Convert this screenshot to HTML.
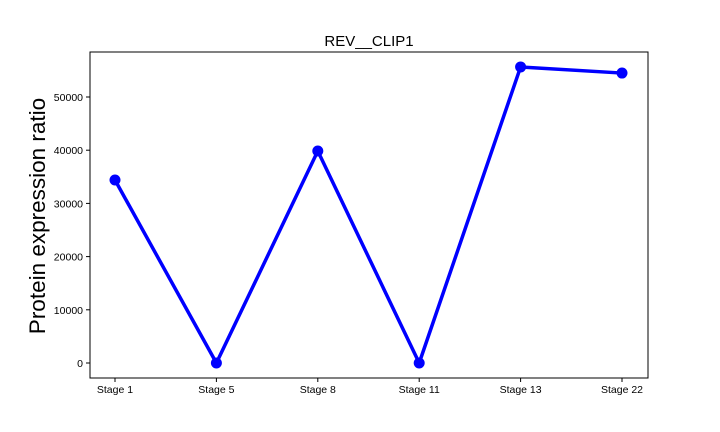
<!DOCTYPE html>
<html><head><meta charset="utf-8"><style>
body{margin:0;background:#fff;}
svg{display:block;font-family:"Liberation Sans","DejaVu Sans",sans-serif;}
</style></head><body>
<svg id="chart" width="720" height="432"></svg>
<script>
const categories=["Stage 1","Stage 5","Stage 8","Stage 11","Stage 13","Stage 22"];
const values=[34400,0,39850,0,55650,54500];
const yTicks=[0,10000,20000,30000,40000,50000];
const NS="http://www.w3.org/2000/svg";
const svg=document.getElementById('chart');
const L=90,R=648,T=52,B=378;
const x0=115,xStep=101.4;
function xs(i){return x0+i*xStep;}
function ys(v){return 363-v*53.2/10000;}
function mk(tag,attrs,parent){const e=document.createElementNS(NS,tag);for(const k in attrs)e.setAttribute(k,attrs[k]);(parent||svg).appendChild(e);return e;}
const frame=mk('rect',{x:L,y:T,width:R-L,height:B-T,fill:'none',stroke:'#000','stroke-width':1});


yTicks.forEach(v=>{
  const y=ys(v);
  const t=mk('line',{x1:L-4,x2:L,y1:y,y2:y,stroke:'#000'});
  
  
  const lb=mk('text',{x:L-7,y:y+4,'text-anchor':'end','font-size':10.5});
  lb.textContent=v;
  
  
});
categories.forEach((c,i)=>{
  const x=xs(i);
  const t=mk('line',{x1:x,x2:x,y1:B,y2:B+4,stroke:'#000'});
  
  
  const lb=mk('text',{x:x,y:B+15,'text-anchor':'middle','font-size':10.5});
  lb.textContent=c;
  
  
});
const line=mk('polyline',{points:values.map((v,i)=>xs(i)+','+ys(v)).join(' '),fill:'none',stroke:'#0000ff','stroke-width':3.5,'stroke-linejoin':'round'});


values.forEach((v,i)=>{
  const p=mk('circle',{cx:xs(i),cy:ys(v),r:5.5,fill:'#0000ff'});
  
  
});
const title=mk('text',{x:(L+R)/2,y:46,'text-anchor':'middle','font-size':15});
title.textContent='REV__CLIP1';


const yt=mk('text',{x:0,y:0,'text-anchor':'middle','font-size':22.5,transform:'translate(45,216) rotate(-90)'});
yt.textContent='Protein expression ratio';


</script>
</body></html>
